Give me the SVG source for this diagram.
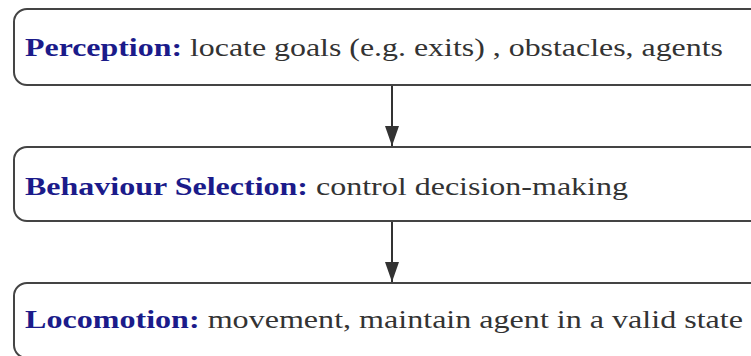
<svg xmlns="http://www.w3.org/2000/svg" width="751" height="356" viewBox="0 0 751 356">
  <defs>
    <marker id="arrow" markerWidth="20" markerHeight="14" refX="20" refY="7" orient="auto" markerUnits="userSpaceOnUse" viewBox="0 0 20 14">
      <path d="M0,0 L20,7 L0,14 Z" fill="#333"/>
    </marker>
  </defs>
  <style>
    .box { fill: #fff; stroke: #444; stroke-width: 2; }
    .txt { font-family: "Liberation Serif", "Times New Roman", serif; font-size: 26px; fill: #333; }
    .key { font-weight: bold; fill: #1b1b8a; }
    .edge { stroke: #333; stroke-width: 2; fill: none; }
  </style>
  <rect width="751" height="356" fill="#fff"/>
  <g id="edges">
    <path class="edge" d="M392,86 V146" marker-end="url(#arrow)"/>
    <path class="edge" d="M392,221 V282" marker-end="url(#arrow)"/>
  </g>
  <g id="perception">
    <rect class="box" x="14" y="9" width="750" height="76" rx="13"/>
    <text class="txt" x="25" y="56" textLength="698" lengthAdjust="spacingAndGlyphs"><tspan class="key">Perception:</tspan> locate goals (e.g. exits) , obstacles, agents</text>
  </g>
  <g id="behaviour-selection">
    <rect class="box" x="14" y="147" width="750" height="74" rx="13"/>
    <text class="txt" x="25" y="195" textLength="603" lengthAdjust="spacingAndGlyphs"><tspan class="key">Behaviour Selection:</tspan> control decision-making</text>
  </g>
  <g id="locomotion">
    <rect class="box" x="14" y="283" width="750" height="75" rx="13"/>
    <text class="txt" x="25" y="328" textLength="718" lengthAdjust="spacingAndGlyphs"><tspan class="key">Locomotion:</tspan> movement, maintain agent in a valid state</text>
  </g>
</svg>
